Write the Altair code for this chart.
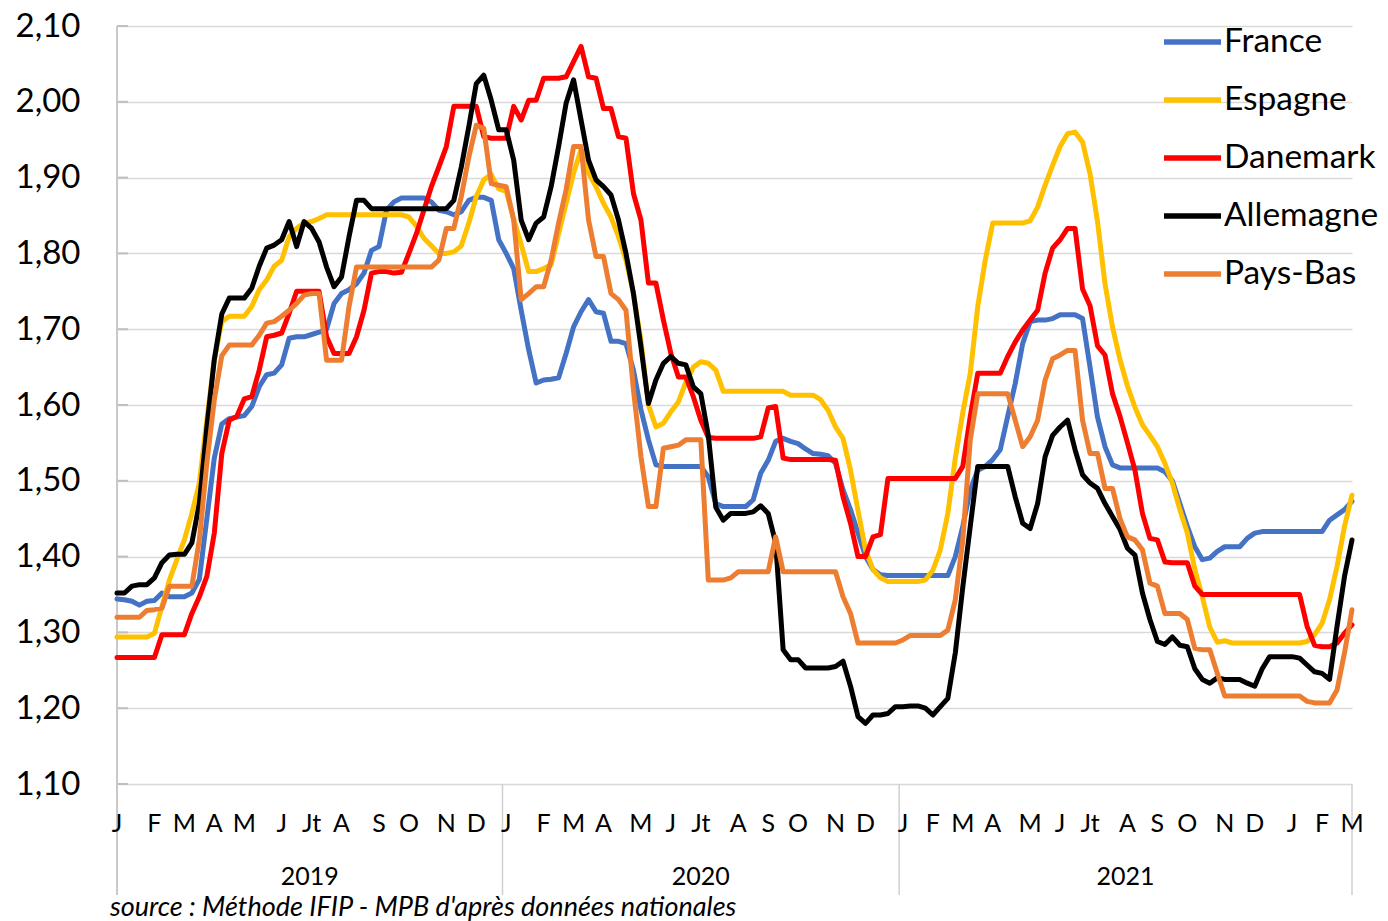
import altair as alt
import pandas as pd

countries = ["France", "Espagne", "Danemark", "Allemagne", "Pays-Bas"]
colors = ["#4472C4", "#FFC000", "#FF0000", "#000000", "#ED7D31"]

france = [
    1.344, 1.343, 1.341, 1.336, 1.341, 1.342, 1.352, 1.347, 1.347, 1.347,
    1.352, 1.370, 1.450, 1.530, 1.575, 1.582, 1.584, 1.586, 1.598, 1.624,
    1.640, 1.642, 1.653, 1.688, 1.690, 1.690, 1.693, 1.696, 1.700, 1.734,
    1.747, 1.752, 1.760, 1.774, 1.804, 1.809, 1.857, 1.868, 1.873, 1.873,
    1.873, 1.873, 1.868, 1.857, 1.855, 1.851, 1.855, 1.870, 1.874, 1.874,
    1.870, 1.818, 1.800, 1.780, 1.725, 1.673, 1.629, 1.633, 1.634, 1.636,
    1.668, 1.703, 1.723, 1.739, 1.723, 1.721, 1.684, 1.684, 1.681, 1.646,
    1.594, 1.554, 1.521, 1.519, 1.519, 1.519, 1.519, 1.519, 1.519, 1.505,
    1.470, 1.466, 1.466, 1.466, 1.466, 1.475, 1.510, 1.527, 1.552, 1.556,
    1.552, 1.549, 1.542, 1.536, 1.535, 1.533, 1.523, 1.488, 1.462, 1.431,
    1.400, 1.383, 1.376, 1.375, 1.375, 1.375, 1.375, 1.375, 1.375, 1.375,
    1.375, 1.375, 1.400, 1.440, 1.488, 1.514, 1.519, 1.528, 1.541, 1.585,
    1.628, 1.681, 1.710, 1.712, 1.712, 1.714, 1.719, 1.719, 1.719, 1.714,
    1.650, 1.584, 1.545, 1.521, 1.517, 1.517, 1.517, 1.517, 1.517, 1.517,
    1.512, 1.500, 1.470, 1.440, 1.413, 1.396, 1.398, 1.407, 1.413, 1.413,
    1.413, 1.424, 1.431, 1.433, 1.433, 1.433, 1.433, 1.433, 1.433, 1.433,
    1.433, 1.433, 1.448, 1.455, 1.462, 1.473,
]

espagne = [
    1.294, 1.294, 1.294, 1.294, 1.294, 1.299, 1.334, 1.369, 1.396, 1.422,
    1.457, 1.497, 1.580, 1.660, 1.710, 1.717, 1.717, 1.717, 1.730, 1.752,
    1.765, 1.783, 1.791, 1.822, 1.833, 1.840, 1.842, 1.846, 1.851, 1.851,
    1.851, 1.851, 1.851, 1.851, 1.851, 1.851, 1.851, 1.851, 1.851, 1.848,
    1.836, 1.820, 1.810, 1.800, 1.800, 1.802, 1.810, 1.840, 1.875, 1.897,
    1.904, 1.885, 1.882, 1.845, 1.812, 1.776, 1.776, 1.780, 1.785, 1.826,
    1.866, 1.906, 1.937, 1.906, 1.888, 1.866, 1.848, 1.822, 1.791, 1.747,
    1.685, 1.600, 1.571, 1.576, 1.591, 1.604, 1.630, 1.650, 1.657, 1.655,
    1.646, 1.618, 1.618, 1.618, 1.618, 1.618, 1.618, 1.618, 1.618, 1.618,
    1.613, 1.613, 1.613, 1.613, 1.607, 1.593, 1.571, 1.556, 1.514, 1.461,
    1.409, 1.383, 1.372, 1.367, 1.367, 1.367, 1.367, 1.367, 1.369, 1.382,
    1.409, 1.457, 1.530, 1.590, 1.642, 1.730, 1.791, 1.840, 1.840, 1.840,
    1.840, 1.840, 1.843, 1.861, 1.890, 1.916, 1.941, 1.958, 1.960, 1.947,
    1.905, 1.842, 1.760, 1.703, 1.660, 1.625, 1.597, 1.574, 1.560, 1.545,
    1.523, 1.497, 1.462, 1.431, 1.383, 1.347, 1.307, 1.287, 1.289, 1.286,
    1.286, 1.286, 1.286, 1.286, 1.286, 1.286, 1.286, 1.286, 1.286, 1.288,
    1.297, 1.312, 1.343, 1.387, 1.440, 1.481,
]

danemark = [
    1.267, 1.267, 1.267, 1.267, 1.267, 1.267, 1.297, 1.297, 1.297, 1.297,
    1.325, 1.347, 1.374, 1.431, 1.536, 1.580, 1.585, 1.608, 1.611, 1.646,
    1.690, 1.692, 1.695, 1.721, 1.750, 1.750, 1.750, 1.750, 1.690, 1.668,
    1.668, 1.668, 1.690, 1.725, 1.774, 1.776, 1.776, 1.774, 1.775, 1.800,
    1.826, 1.857, 1.888, 1.914, 1.941, 1.994, 1.994, 1.994, 1.994, 1.954,
    1.952, 1.952, 1.952, 1.994, 1.976, 2.002, 2.002, 2.031, 2.031, 2.031,
    2.033, 2.053, 2.073, 2.033, 2.031, 1.991, 1.991, 1.954, 1.952, 1.879,
    1.844, 1.761, 1.761, 1.712, 1.668, 1.637, 1.637, 1.611, 1.580, 1.557,
    1.556, 1.556, 1.556, 1.556, 1.556, 1.556, 1.558, 1.596, 1.598, 1.530,
    1.528, 1.528, 1.528, 1.528, 1.528, 1.528, 1.527, 1.479, 1.444, 1.400,
    1.400, 1.426, 1.429, 1.503, 1.503, 1.503, 1.503, 1.503, 1.503, 1.503,
    1.503, 1.503, 1.503, 1.519, 1.585, 1.642, 1.642, 1.642, 1.642, 1.664,
    1.683, 1.699, 1.712, 1.725, 1.774, 1.807, 1.818, 1.833, 1.833, 1.753,
    1.731, 1.678, 1.666, 1.615, 1.585, 1.550, 1.514, 1.457, 1.424, 1.422,
    1.393, 1.392, 1.392, 1.392, 1.361, 1.350, 1.350, 1.350, 1.350, 1.350,
    1.350, 1.350, 1.350, 1.350, 1.350, 1.350, 1.350, 1.350, 1.350, 1.308,
    1.283, 1.281, 1.281, 1.286, 1.299, 1.310,
]

allemagne = [
    1.352, 1.352, 1.361, 1.363, 1.363, 1.372, 1.392, 1.402, 1.403, 1.403,
    1.418, 1.470, 1.570, 1.660, 1.720, 1.741, 1.741, 1.741, 1.754, 1.783,
    1.807, 1.811, 1.818, 1.842, 1.809, 1.842, 1.833, 1.815, 1.782, 1.756,
    1.769, 1.822, 1.870, 1.870, 1.859, 1.859, 1.859, 1.859, 1.859, 1.859,
    1.859, 1.859, 1.859, 1.859, 1.859, 1.870, 1.914, 1.967, 2.024, 2.035,
    2.002, 1.963, 1.963, 1.923, 1.844, 1.818, 1.840, 1.848, 1.888, 1.941,
    1.998, 2.029, 1.976, 1.923, 1.897, 1.888, 1.877, 1.844, 1.800, 1.747,
    1.677, 1.602, 1.633, 1.655, 1.664, 1.655, 1.653, 1.624, 1.615, 1.560,
    1.465, 1.448, 1.457, 1.457, 1.457, 1.459, 1.467, 1.457, 1.418, 1.277,
    1.264, 1.264, 1.253, 1.253, 1.253, 1.253, 1.255, 1.262, 1.229, 1.189,
    1.180, 1.191, 1.191, 1.193, 1.202, 1.202, 1.203, 1.203, 1.200, 1.191,
    1.202, 1.213, 1.273, 1.360, 1.440, 1.519, 1.519, 1.519, 1.519, 1.519,
    1.479, 1.444, 1.437, 1.470, 1.532, 1.560, 1.571, 1.580, 1.541, 1.508,
    1.497, 1.490, 1.470, 1.453, 1.436, 1.411, 1.402, 1.352, 1.317, 1.288,
    1.284, 1.294, 1.283, 1.281, 1.252, 1.238, 1.233, 1.240, 1.238, 1.238,
    1.238, 1.233, 1.229, 1.252, 1.268, 1.268, 1.268, 1.268, 1.266, 1.257,
    1.248, 1.246, 1.238, 1.308, 1.374, 1.422,
]

pays_bas = [
    1.320, 1.320, 1.320, 1.320, 1.329, 1.330, 1.332, 1.361, 1.361, 1.361,
    1.361, 1.422, 1.523, 1.607, 1.665, 1.679, 1.679, 1.679, 1.679, 1.692,
    1.708, 1.710, 1.717, 1.725, 1.734, 1.745, 1.747, 1.747, 1.659, 1.659,
    1.659, 1.730, 1.782, 1.782, 1.782, 1.782, 1.782, 1.782, 1.782, 1.782,
    1.782, 1.782, 1.782, 1.791, 1.833, 1.833, 1.875, 1.927, 1.969, 1.965,
    1.892, 1.890, 1.888, 1.844, 1.739, 1.747, 1.756, 1.756, 1.791, 1.840,
    1.884, 1.941, 1.941, 1.844, 1.796, 1.796, 1.747, 1.739, 1.725, 1.620,
    1.532, 1.466, 1.466, 1.543, 1.545, 1.547, 1.554, 1.554, 1.554, 1.369,
    1.369, 1.369, 1.372, 1.380, 1.380, 1.380, 1.380, 1.380, 1.426, 1.380,
    1.380, 1.380, 1.380, 1.380, 1.380, 1.380, 1.380, 1.347, 1.325, 1.286,
    1.286, 1.286, 1.286, 1.286, 1.286, 1.290, 1.296, 1.296, 1.296, 1.296,
    1.296, 1.303, 1.343, 1.422, 1.554, 1.615, 1.615, 1.615, 1.615, 1.615,
    1.580, 1.545, 1.558, 1.580, 1.633, 1.661, 1.666, 1.672, 1.672, 1.580,
    1.536, 1.536, 1.490, 1.490, 1.450, 1.426, 1.422, 1.409, 1.365, 1.361,
    1.325, 1.325, 1.325, 1.317, 1.279, 1.277, 1.277, 1.246, 1.216, 1.216,
    1.216, 1.216, 1.216, 1.216, 1.216, 1.216, 1.216, 1.216, 1.216, 1.209,
    1.207, 1.207, 1.207, 1.224, 1.273, 1.330,
]

month_letters = ["J", "F", "M", "A", "M", "J", "Jt", "A", "S", "O", "N", "D",
                 "J", "F", "M", "A", "M", "J", "Jt", "A", "S", "O", "N", "D",
                 "J", "F", "M", "A", "M", "J", "Jt", "A", "S", "O", "N", "D",
                 "J", "F", "M"]
month_weeks = [0, 5, 9, 13, 17, 22, 26, 30, 35, 39, 44, 48,
               52, 57, 61, 65, 70, 74, 78, 83, 87, 91, 96, 100,
               105, 109, 113, 117, 122, 126, 130, 135, 139, 143, 148, 152,
               157, 161, 165]
years = ["2019", "2020", "2021"]
weeks_per_group = [52, 53, 61]
y_ticks = [1.1, 1.2, 1.3, 1.4, 1.5, 1.6, 1.7, 1.8, 1.9, 2.0, 2.1]
source_text = "source : Méthode IFIP - MPB d'après données nationales"

# ---- tables ----
rows = []
for name, vals in zip(countries, [france, espagne, danemark, allemagne, pays_bas]):
    for i, v in enumerate(vals):
        rows.append({"semaine": i, "valeur": v, "pays": name})
df = pd.DataFrame(rows)
last = len(france) - 1

starts = [0]
for n in weeks_per_group:
    starts.append(starts[-1] + n)
edges = [0] + [s - 0.5 for s in starts[1:-1]] + [last]
sep_df = pd.DataFrame({"sx": edges[1:]})
year_df = pd.DataFrame({"annee": years,
                        "cx": [(edges[k] + edges[k + 1]) / 2 for k in range(len(years))]})
month_df = pd.DataFrame({"m": month_letters, "w": month_weeks})
ticks_df = pd.DataFrame({"v": y_ticks})

W, H = 1235, 758
FONT = "Lato"

xscale = alt.Scale(domain=[0, last], nice=False, zero=False)
yscale = alt.Scale(domain=[1.1, 2.1], nice=False, zero=False)
yaxis = alt.Axis(values=y_ticks,
                 labelExpr="replace(format(datum.value, '.2f'), '.', ',')",
                 grid=True, gridColor="#d9d9d9", gridWidth=1.5,
                 domain=False, ticks=False, labelFont=FONT, labelFontSize=33,
                 labelColor="#000000", labelPadding=37, title=None)
legend = alt.Legend(orient="none", legendX=1044, legendY=-15.5, title=None,
                    symbolType="stroke", symbolStrokeWidth=5.5, symbolSize=3249,
                    labelFont=FONT, labelFontSize=33.5, labelColor="#000000",
                    labelOffset=0, rowPadding=10, padding=0, labelLimit=400)
color = alt.Color("pays:N", scale=alt.Scale(domain=countries, range=colors), legend=legend)

inner_ticks = alt.Chart(ticks_df).mark_rule(color="#bfbfbf", strokeWidth=2).encode(
    x=alt.value(0), x2=alt.value(11),
    y=alt.Y("v:Q", scale=yscale, axis=yaxis))

left_line = alt.Chart(ticks_df).mark_rule(color="#c8c8c8", strokeWidth=1.5).encode(
    x=alt.value(0), y=alt.value(0), y2=alt.value(869))

seps = alt.Chart(sep_df).mark_rule(color="#d0d0d0", strokeWidth=1.5).encode(
    x=alt.X("sx:Q", scale=xscale, axis=None),
    y=alt.value(H), y2=alt.value(869))

line_layers = []
for c in countries:
    line_layers.append(
        alt.Chart(df).transform_filter(alt.datum.pays == c)
        .mark_line(strokeWidth=5, strokeJoin="round", strokeCap="round")
        .encode(x=alt.X("semaine:Q", scale=xscale, axis=None),
                y=alt.Y("valeur:Q", scale=yscale, axis=yaxis),
                color=color)
    )

months = alt.Chart(month_df).mark_text(font=FONT, fontSize=25, color="#000000",
                                       baseline="middle", align="center").encode(
    x=alt.X("w:Q", scale=xscale, axis=None), y=alt.value(798), text="m:N")

year_text = alt.Chart(year_df).mark_text(font=FONT, fontSize=25, color="#000000",
                                         baseline="middle", align="center").encode(
    x=alt.X("cx:Q", scale=xscale, axis=None), y=alt.value(851), text="annee:N")

src = alt.Chart(pd.DataFrame({"t": [source_text]})).mark_text(
    font=FONT, fontSize=27, fontStyle="italic", color="#000000",
    align="left", baseline="middle").encode(
    x=alt.value(-7), y=alt.value(882), text="t:N")

chart = alt.layer(inner_ticks, left_line, seps, *line_layers, months, year_text, src).properties(
    width=W, height=H,
    autosize=alt.AutoSizeParams(type="none"),
    padding={"left": 109, "top": 18, "right": 28, "bottom": 137},
).configure_view(stroke=None)

chart.save("out.html", embed_options={"renderer": "svg", "actions": False})
